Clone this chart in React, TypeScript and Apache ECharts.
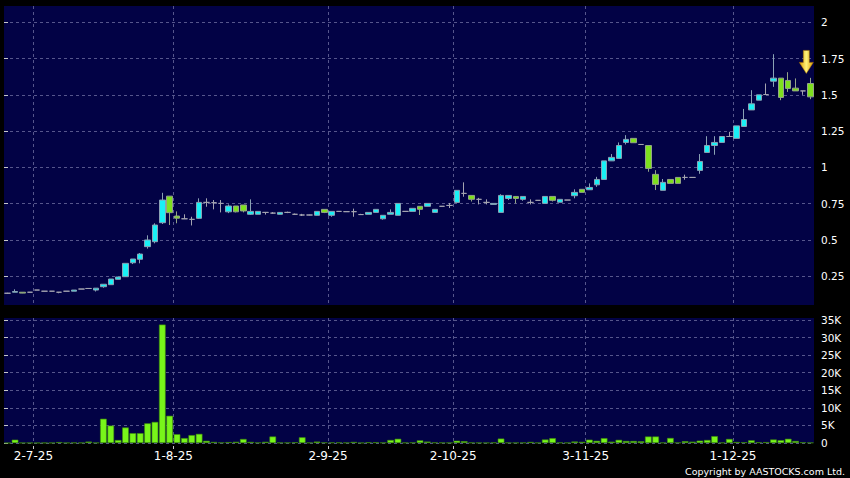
import React, { useEffect, useRef } from "react";
import * as echarts from "echarts";

// Trading days (only days with trades), grouped by month
const monthDays: [string, number[]][] = [
  ["2025-06", [25, 26, 27, 30]],
  ["2025-07", [2, 3, 4, 7, 8, 10, 11, 14, 15, 17, 18, 21, 23, 24, 25, 28, 29, 30, 31]],
  ["2025-08", [1, 4, 5, 6, 7, 8, 11, 12, 13, 14, 15, 18, 19, 20, 21, 22, 25, 26, 27, 28, 29]],
  ["2025-09", [2, 3, 5, 8, 9, 11, 12, 15, 16, 18, 19, 22, 23, 25, 26, 29, 30]],
  ["2025-10", [2, 3, 6, 8, 10, 13, 14, 15, 16, 17, 20, 21, 23, 24, 27, 28, 30, 31]],
  ["2025-11", [3, 4, 5, 6, 7, 10, 11, 12, 13, 14, 17, 18, 19, 20, 21, 24, 25, 26, 27, 28]],
  ["2025-12", [1, 2, 3, 4, 5, 8, 9, 10, 11, 12, 15]],
];

const openP = [
  0.133, 0.14, 0.14, 0.14, 0.155, 0.147, 0.147, 0.14, 0.147, 0.147,
  0.162, 0.166, 0.155, 0.178, 0.192, 0.229, 0.247, 0.343, 0.367, 0.454,
  0.488, 0.619, 0.802, 0.665, 0.646, 0.642, 0.649, 0.759, 0.757, 0.752,
  0.694, 0.734, 0.741, 0.677, 0.677, 0.69, 0.685, 0.677, 0.69, 0.677,
  0.672, 0.672, 0.67, 0.711, 0.67, 0.697, 0.695, 0.695, 0.675, 0.677,
  0.69, 0.646, 0.677, 0.67, 0.697, 0.697, 0.732, 0.732, 0.69, 0.732,
  0.738, 0.759, 0.821, 0.807, 0.78, 0.759, 0.745, 0.69, 0.786, 0.8,
  0.78, 0.759, 0.773, 0.752, 0.8, 0.76, 0.775, 0.805, 0.849, 0.846,
  0.88, 0.917, 1.045, 1.062, 1.172, 1.2, 1.158, 1.151, 0.952, 0.842,
  0.917, 0.931, 0.931, 0.931, 0.979, 1.103, 1.151, 1.172, 1.213, 1.2,
  1.282, 1.396, 1.463, 1.502, 1.594, 1.615, 1.599, 1.546, 1.527, 1.578,
];
const closeP = [
  0.133, 0.145, 0.134, 0.14, 0.155, 0.147, 0.147, 0.14, 0.147, 0.155,
  0.162, 0.166, 0.168, 0.195, 0.231, 0.245, 0.339, 0.369, 0.403, 0.5,
  0.603, 0.775, 0.688, 0.65, 0.646, 0.642, 0.759, 0.759, 0.757, 0.752,
  0.734, 0.694, 0.7, 0.697, 0.697, 0.69, 0.685, 0.69, 0.69, 0.677,
  0.672, 0.672, 0.697, 0.69, 0.697, 0.697, 0.695, 0.695, 0.675, 0.69,
  0.711, 0.67, 0.69, 0.752, 0.697, 0.718, 0.711, 0.752, 0.711, 0.732,
  0.738, 0.842, 0.821, 0.78, 0.78, 0.759, 0.752, 0.807, 0.807, 0.786,
  0.8, 0.759, 0.773, 0.8, 0.773, 0.78, 0.775, 0.828, 0.828, 0.862,
  0.917, 1.045, 1.069, 1.151, 1.193, 1.17, 1.158, 0.993, 0.883, 0.897,
  0.89, 0.89, 0.931, 0.931, 1.041, 1.151, 1.172, 1.213, 1.213, 1.286,
  1.33, 1.438, 1.5, 1.502, 1.615, 1.482, 1.544, 1.527, 1.527, 1.486,
];
const lowP = [
  0.13, 0.14, 0.133, 0.138, 0.155, 0.147, 0.147, 0.133, 0.147, 0.147,
  0.162, 0.166, 0.145, 0.171, 0.192, 0.229, 0.247, 0.334, 0.339, 0.44,
  0.477, 0.61, 0.603, 0.615, 0.646, 0.6, 0.645, 0.729, 0.711, 0.69,
  0.685, 0.69, 0.69, 0.672, 0.677, 0.675, 0.68, 0.677, 0.685, 0.672,
  0.665, 0.67, 0.668, 0.685, 0.66, 0.697, 0.695, 0.66, 0.672, 0.677,
  0.69, 0.64, 0.677, 0.67, 0.697, 0.697, 0.672, 0.732, 0.69, 0.732,
  0.72, 0.759, 0.798, 0.765, 0.745, 0.745, 0.745, 0.69, 0.775, 0.752,
  0.77, 0.745, 0.773, 0.752, 0.765, 0.76, 0.775, 0.787, 0.828, 0.846,
  0.866, 0.917, 1.045, 1.062, 1.158, 1.17, 1.158, 0.97, 0.844, 0.842,
  0.89, 0.89, 0.915, 0.931, 0.956, 1.103, 1.087, 1.172, 1.213, 1.2,
  1.282, 1.396, 1.463, 1.502, 1.555, 1.463, 1.52, 1.527, 1.5, 1.47,
];
const highP = [
  0.136, 0.16, 0.14, 0.14, 0.155, 0.147, 0.147, 0.14, 0.147, 0.155,
  0.162, 0.166, 0.168, 0.195, 0.231, 0.245, 0.339, 0.369, 0.41, 0.532,
  0.615, 0.825, 0.802, 0.697, 0.677, 0.66, 0.787, 0.787, 0.775, 0.775,
  0.745, 0.734, 0.741, 0.78, 0.697, 0.69, 0.692, 0.69, 0.695, 0.682,
  0.68, 0.674, 0.697, 0.711, 0.697, 0.697, 0.695, 0.716, 0.68, 0.69,
  0.711, 0.67, 0.711, 0.752, 0.697, 0.718, 0.732, 0.752, 0.711, 0.732,
  0.755, 0.842, 0.897, 0.807, 0.79, 0.78, 0.752, 0.815, 0.807, 0.8,
  0.8, 0.78, 0.773, 0.8, 0.8, 0.78, 0.775, 0.849, 0.849, 0.89,
  0.935, 1.045, 1.092, 1.172, 1.222, 1.2, 1.158, 1.151, 0.981, 0.92,
  0.917, 0.931, 0.95, 0.931, 1.092, 1.215, 1.215, 1.213, 1.245, 1.286,
  1.403, 1.532, 1.5, 1.578, 1.78, 1.615, 1.656, 1.613, 1.527, 1.617,
];
const volume = [
  0, 950, 50, 50, 30, 50, 50, 250, 50, 100,
  80, 400, 80, 6900, 4950, 850, 4400, 2800, 2800, 5600,
  6000, 33700, 7750, 2500, 1400, 2250, 2600, 620, 300, 120,
  250, 340, 1140, 300, 100, 340, 1850, 100, 100, 200,
  1620, 100, 400, 150, 150, 150, 100, 300, 50, 200,
  200, 100, 860, 1200, 100, 150, 750, 400, 150, 100,
  80, 650, 520, 120, 80, 60, 150, 1260, 100, 80,
  100, 300, 80, 1000, 1380, 120, 80, 420, 330, 950,
  620, 1380, 380, 900, 570, 570, 480, 1850, 1850, 100,
  1430, 100, 520, 380, 670, 860, 1950, 100, 1150, 280,
  200, 770, 200, 250, 1000, 800, 1200, 570, 190, 100,
];

const priceTicks = [0.25, 0.5, 0.75, 1, 1.25, 1.5, 1.75, 2];
const volumeTicks = [0, 5000, 10000, 15000, 20000, 25000, 30000, 35000];
const arrowValue = 1.727;

const NAVY = "#020245";
const GRID_LINE = "#56568c";
const CYAN = "#19f0f5";
const GREEN = "#7ee01e";
const VOL_GREEN = "#78f51a";

export default function App() {
  const ref = useRef<HTMLDivElement>(null);

  useEffect(() => {
    if (!ref.current) return;
    const chart = echarts.init(ref.current, undefined, { renderer: "svg" });

    const categories: string[] = [];
    monthDays.forEach(([ym, days]) => {
      days.forEach((d) => categories.push(`${ym}-${String(d).padStart(2, "0")}`));
    });
    const N = categories.length;
    // month-start boundaries for labels / vertical grid lines
    const tickIdx: number[] = [];
    const tickText: Record<number, string> = {};
    for (let i = 1; i < N; i++) {
      if (categories[i].slice(0, 7) !== categories[i - 1].slice(0, 7)) {
        const [y, m, d] = categories[i].split("-");
        tickIdx.push(i);
        tickText[i] = `${Number(d)}-${Number(m)}-${y.slice(2)}`;
      }
    }

    const candleData = openP.map((o, i) => [o, closeP[i], lowP[i], highP[i]]);
    const dashed = { color: GRID_LINE, type: [3, 3] as any, width: 1 };
    const hidden = { show: false };

    chart.setOption({
      animation: false,
      backgroundColor: "#000000",
      textStyle: { fontFamily: "DejaVu Sans" },
      grid: [
        { left: 4, right: 36, top: 6, height: 299, show: true, backgroundColor: NAVY, borderWidth: 0 },
        { left: 4, right: 36, top: 318, height: 125, show: true, backgroundColor: NAVY, borderWidth: 0 },
      ],
      xAxis: [
        { type: "category", gridIndex: 0, data: categories, boundaryGap: true, axisLine: hidden, axisTick: hidden, axisLabel: hidden, splitLine: hidden },
        { type: "category", gridIndex: 1, data: categories, boundaryGap: true, axisLine: hidden, axisTick: hidden, axisLabel: hidden, splitLine: hidden },
        {
          type: "value", gridIndex: 0, min: 0, max: N,
          axisLine: hidden,
          axisTick: { show: false, customValues: tickIdx },
          axisLabel: { show: false, customValues: tickIdx },
          splitLine: { show: true, lineStyle: dashed },
        },
        {
          type: "value", gridIndex: 1, min: 0, max: N, position: "bottom", offset: 3,
          axisLine: hidden,
          axisTick: { show: true, length: 3, customValues: tickIdx, lineStyle: { color: "#c8c8c8" } },
          axisLabel: {
            show: true, customValues: tickIdx, color: "#ffffff", fontSize: 12, margin: 4,
            fontFamily: "DejaVu Sans",
            formatter: (v: number) => tickText[Math.round(v)] ?? "",
          },
          splitLine: { show: true, lineStyle: dashed },
        },
      ],
      yAxis: [
        {
          type: "value", gridIndex: 0, position: "right", min: 0.052, max: 2.112, offset: 4,
          axisLine: hidden,
          axisTick: { show: true, length: 4, customValues: priceTicks, lineStyle: { color: "#c8c8c8" } },
          axisLabel: { customValues: priceTicks, color: "#ffffff", fontSize: 10.5, margin: 3, fontFamily: "DejaVu Sans", formatter: (v: number) => String(v) },
          splitLine: { show: true, lineStyle: dashed },
        },
        {
          type: "value", gridIndex: 1, position: "right", min: 0, max: 35570, offset: 4,
          axisLine: hidden,
          axisTick: { show: true, length: 4, customValues: volumeTicks, lineStyle: { color: "#c8c8c8" } },
          axisLabel: {
            customValues: volumeTicks, color: "#ffffff", fontSize: 10.5, margin: 3, fontFamily: "DejaVu Sans",
            formatter: (v: number) => (v === 0 ? "0" : `${v / 1000}K`),
          },
          splitLine: { show: true, lineStyle: dashed },
        },
      ],
      series: [
        {
          type: "candlestick",
          xAxisIndex: 0,
          yAxisIndex: 0,
          data: candleData,
          barWidth: 6,
          itemStyle: {
            color: CYAN,
            color0: GREEN,
            borderColor: "#8aa2b4",
            borderColor0: "#94a488",
            borderColorDoji: "#a4a4b0",
            borderWidth: 1,
          },
          markPoint: {
            silent: true,
            label: { show: false },
            data: [
              {
                coord: [categories[N - 1], arrowValue],
                symbol: "path://M4,0 L10,0 L10,12 L14,12 L7,23 L0,12 L4,12 Z",
                symbolSize: [14, 23],
                symbolOffset: [-4, 0],
                itemStyle: {
                  color: {
                    type: "linear", x: 0, y: 0, x2: 1, y2: 0,
                    colorStops: [
                      { offset: 0, color: "#d99a00" },
                      { offset: 0.5, color: "#fff27a" },
                      { offset: 1, color: "#d99a00" },
                    ],
                  },
                  borderColor: "#b07800",
                  borderWidth: 0.5,
                },
              },
            ],
          },
        },
        {
          type: "bar",
          xAxisIndex: 1,
          yAxisIndex: 1,
          data: volume,
          barCategoryGap: "10%",
          itemStyle: { color: VOL_GREEN, borderColor: "#3f8f0a", borderWidth: 0.6 },
        },
      ],
      graphic: [
        {
          type: "text",
          right: 5,
          bottom: 2,
          style: {
            text: "Copyright by AASTOCKS.com Ltd.",
            fill: "#ffffff",
            font: '9.5px "DejaVu Sans"',
          },
        },
      ],
    });

    return () => chart.dispose();
  }, []);

  return (
    <div style={{ position: "fixed", left: 0, top: 0, width: 850, height: 478, background: "#000" }}>
      <div ref={ref} style={{ width: 850, height: 478 }} />
    </div>
  );
}
